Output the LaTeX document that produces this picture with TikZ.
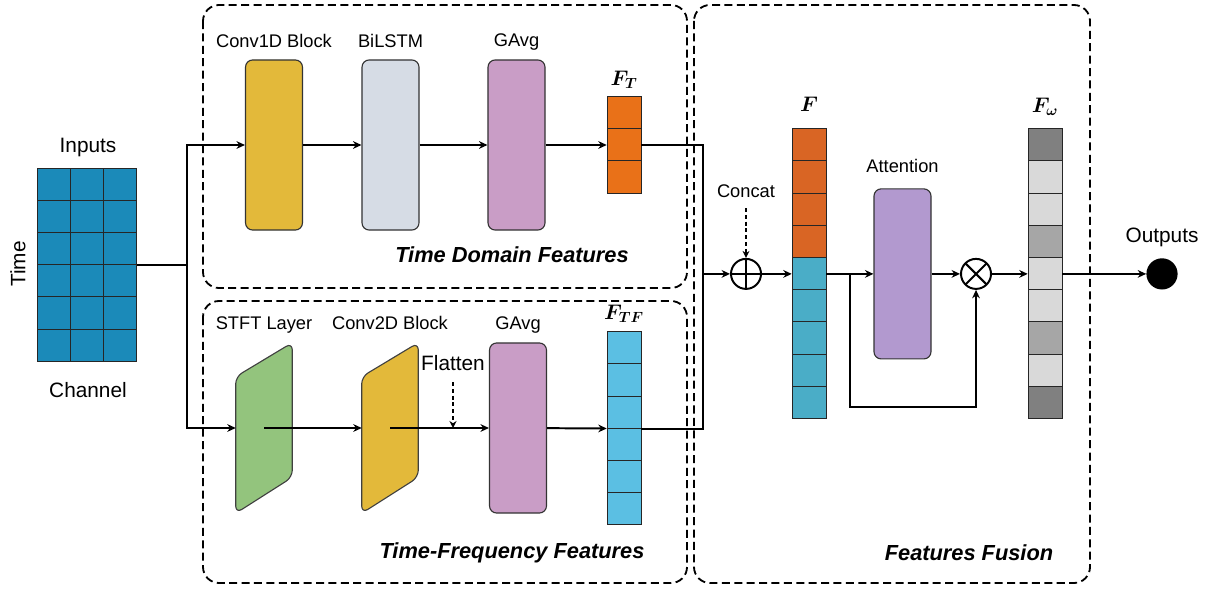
\documentclass[tikz,border=0pt]{standalone}
\usepackage{fix-cm}
\usepackage{amsmath,amssymb}
\usepackage{fontspec}
\setmainfont{Liberation Sans}
\usepackage{tikz}
\usetikzlibrary{calc,arrows.meta,positioning}
\definecolor{gridblue}{HTML}{1B8AB9}
\definecolor{convgold}{HTML}{E3B93A}
\definecolor{lstmgray}{HTML}{D6DCE5}
\definecolor{gavgpink}{HTML}{C99DC6}
\definecolor{ftorange}{HTML}{E97118}
\definecolor{ftfblue}{HTML}{5BBFE3}
\definecolor{stftgreen}{HTML}{93C47D}
\definecolor{catorange}{HTML}{D96524}
\definecolor{catblue}{HTML}{4AADC7}
\definecolor{attnpurple}{HTML}{B299CF}
\definecolor{wdark}{HTML}{808080}
\definecolor{wmid}{HTML}{A6A6A6}
\definecolor{wlight}{HTML}{D9D9D9}
\tikzset{
  wire/.style={line width=1.4pt},
  dasharrow/.style={line width=1.1pt,dash pattern=on 0.1cm off 0.07cm,-{Stealth[length=5pt,width=5pt]}},
  groupbox/.style={line width=1.3pt,dash pattern=on 0.2cm off 0.11cm,rounded corners=0.4cm},
  block/.style={draw=black!80,line width=0.8pt,rounded corners=0.18cm,
    minimum width=1.425cm,minimum height=4.25cm,inner sep=0pt},
  skewbox/.style={draw=black!75,line width=0.8pt,rounded corners=0.18cm},
  slot/.style={inner sep=0pt,minimum width=0.85cm},
  cell/.style={draw=black!85,line width=0.7pt,minimum width=0.85cm,minimum height=0.805cm,inner sep=0pt},
  sumop/.style={circle,draw,line width=1.4pt,minimum size=0.75cm,inner sep=0pt,
    path picture={\draw[line width=1.4pt] (path picture bounding box.north) -- (path picture bounding box.south)
      (path picture bounding box.west) -- (path picture bounding box.east);}},
  prodop/.style={circle,draw,line width=1.4pt,minimum size=0.75cm,inner sep=0pt,
    path picture={\draw[line width=1.4pt] (path picture bounding box.north west) -- (path picture bounding box.south east)
      (path picture bounding box.north east) -- (path picture bounding box.south west);}},
  outdot/.style={circle,fill=black,minimum size=0.78cm,inner sep=0pt},
  lbl/.style={font=\fontsize{13}{15}\selectfont,inner sep=0pt},
  biglbl/.style={font=\fontsize{14.8}{17}\selectfont,inner sep=0pt},
  mathlbl/.style={font=\fontsize{15}{17}\selectfont,inner sep=0pt},
  title/.style={font=\fontsize{15.5}{18}\selectfont\bfseries\itshape,inner sep=0pt}
}
\tikzstyle{arrow} = [line width=1.4pt,-{Stealth[length=6pt,width=5.5pt]}]

\begin{document}
\begin{tikzpicture}[x=0.025cm,y=-0.025cm]
  \useasboundingbox (0,0) rectangle (1210,590);
  % group frames
  \draw[groupbox] (203,5) rectangle (687,288);
  \draw[groupbox] (203,301) rectangle (687,583);
  \draw[groupbox] (694,5) rectangle (1090,583);
  \node[title] (tdtitle) at (512,255) {Time Domain Features};
  \node[title] (tftitle) at (512,553) {Time-Frequency Features};
  \node[title] (fftitle) at (969,553) {Features Fusion};

  % inputs
  \node[slot,minimum width=2.475cm,minimum height=4.83cm] (inputs) at (87.5,265) {};
  \foreach \r in {1,...,6}
    \foreach \c in {1,...,3}
      \node[cell,fill=gridblue,minimum width=0.825cm] (in-\r-\c)
        at ($(inputs.north west)+({33*\c-16.5},{32.2*\r-16.1})$) {};
  \node[biglbl,anchor=base] (inlbl) at (88,153) {Inputs};
  \node[biglbl,anchor=base] (chlbl) at (88,397) {Channel};
  \node[biglbl,rotate=90] (timelbl) at (18,264) {Time};

  % time domain branch
  \node[block,fill=convgold] (conv1d) at (274,145) {};
  \node[block,fill=lstmgray] (bilstm) at (390.5,145) {};
  \node[block,fill=gavgpink] (gavg1) at (516.5,145) {};
  \node[slot,minimum height=2.415cm] (ft) at (624,145) {};
  \foreach \i in {1,2,3}
    \node[cell,fill=ftorange] (ft-\i) at ($(ft.north)+(0,{32.2*\i-16.1})$) {};
  \node[lbl,anchor=base,yshift=0.3cm] (conv1dlbl) at (conv1d.north) {Conv1D Block};
  \node[lbl,anchor=base,yshift=0.3cm] (bilstmlbl) at (bilstm.north) {BiLSTM};
  \node[lbl,anchor=base,yshift=0.32cm] (gavg1lbl) at (gavg1.north) {GAvg};
  \node[mathlbl,anchor=base,yshift=0.28cm] (ftlbl) at (ft.north) {$\boldsymbol{F_{T}}$};

  % time-frequency branch
  \node[slot,minimum width=1.4cm,minimum height=4.25cm] (stft) at (264,428) {};
  \node[slot,minimum width=1.4cm,minimum height=4.25cm] (conv2d) at (390,428) {};
  \foreach \n/\c in {stft/stftgreen,conv2d/convgold}
    \draw[skewbox,fill=\c] (\n.south west) -- ([yshift=-0.85cm]\n.north west)
      -- (\n.north east) -- ([yshift=0.9cm]\n.south east) -- cycle;
  \node[block,fill=gavgpink] (gavg2) at (518,428) {};
  \node[slot,minimum height=4.83cm] (ftf) at (624,428.6) {};
  \foreach \i in {1,...,6}
    \node[cell,fill=ftfblue] (ftf-\i) at ($(ftf.north)+(0,{32.2*\i-16.1})$) {};
  \node[lbl,anchor=base,yshift=0.32cm] (stftlbl) at (stft.north) {STFT Layer};
  \node[lbl,anchor=base,yshift=0.32cm] (conv2dlbl) at (conv2d.north) {Conv2D Block};
  \node[lbl,anchor=base,yshift=0.32cm] (gavg2lbl) at (gavg2.north) {GAvg};
  \node[mathlbl,anchor=base,yshift=0.3cm] (ftflbl) at (ftf.north) {$\boldsymbol{F_{TF}}$};
  \node[biglbl,anchor=base] (flatten) at (453,370) {Flatten};

  % connectors
  \coordinate (split) at (187,265);
  \draw[wire] (inputs.east) -- (split);
  \draw[arrow] (split) |- (conv1d.west);
  \draw[arrow] (split) |- (stft.west);
  \draw[arrow] (conv1d) -- (bilstm);
  \draw[arrow] (bilstm) -- (gavg1);
  \draw[arrow] (gavg1) -- (ft);
  \draw[arrow] (stft.center) -- (conv2d.west);
  \draw[arrow] (conv2d.center) -- (gavg2.west);
  \draw[arrow] (gavg2) -- (ftf);
  \draw[dasharrow] ([yshift=-0.3cm]flatten.base) -- (flatten.base |- conv2d.center);

  % fusion
  \coordinate (merge) at (703,273.9);
  \draw[wire] (ft.east) -| (merge);
  \draw[wire] (ftf.east) -| (merge);
  \node[sumop] (concat) at (746,273.9) {};
  \node[lbl,anchor=base] (concatlbl) at (746,198) {Concat};
  \draw[arrow] (merge) -- (concat);
  \draw[dasharrow] ([yshift=-0.25cm]concatlbl.base) -- (concat.north);
  \node[slot,minimum height=7.245cm] (fcat) at (809,273.9) {};
  \foreach \i/\c in {1/catorange,2/catorange,3/catorange,4/catorange,5/catblue,
                     6/catblue,7/catblue,8/catblue,9/catblue}
    \node[cell,fill=\c] (fcat-\i) at ($(fcat.north)+(0,{32.2*\i-16.1})$) {};
  \node[mathlbl,anchor=base,yshift=0.42cm] (fcatlbl) at (fcat.north) {$\boldsymbol{F}$};
  \draw[arrow] (concat) -- (fcat);
  \node[block,fill=attnpurple] (attn) at (902.5,273.9) {};
  \node[lbl,anchor=base,yshift=0.4cm] (attnlbl) at (attn.north) {Attention};
  \draw[arrow] (fcat) -- (attn);
  \node[prodop] (mult) at (976,273.9) {};
  \draw[arrow] (attn) -- (mult);
  \coordinate (skip) at (850,273.9);
  \coordinate (skipb) at (850,407);
  \draw[arrow] (skip) -- (skipb) -| (mult.south);
  \node[slot,minimum height=7.245cm] (fw) at (1045,273.9) {};
  \foreach \i/\c in {1/wdark,2/wlight,3/wlight,4/wmid,5/wlight,
                     6/wlight,7/wmid,8/wlight,9/wdark}
    \node[cell,fill=\c] (fw-\i) at ($(fw.north)+(0,{32.2*\i-16.1})$) {};
  \node[mathlbl,anchor=base,yshift=0.4cm] (fwlbl) at (fw.north) {$\boldsymbol{F_{\omega}}$};
  \draw[arrow] (mult) -- (fw);
  \node[outdot] (out) at (1162,273.9) {};
  \node[biglbl,anchor=base,yshift=0.38cm] (outlbl) at (out.north) {Outputs};
  \draw[arrow] (fw) -- (out);
\end{tikzpicture}
\end{document}
